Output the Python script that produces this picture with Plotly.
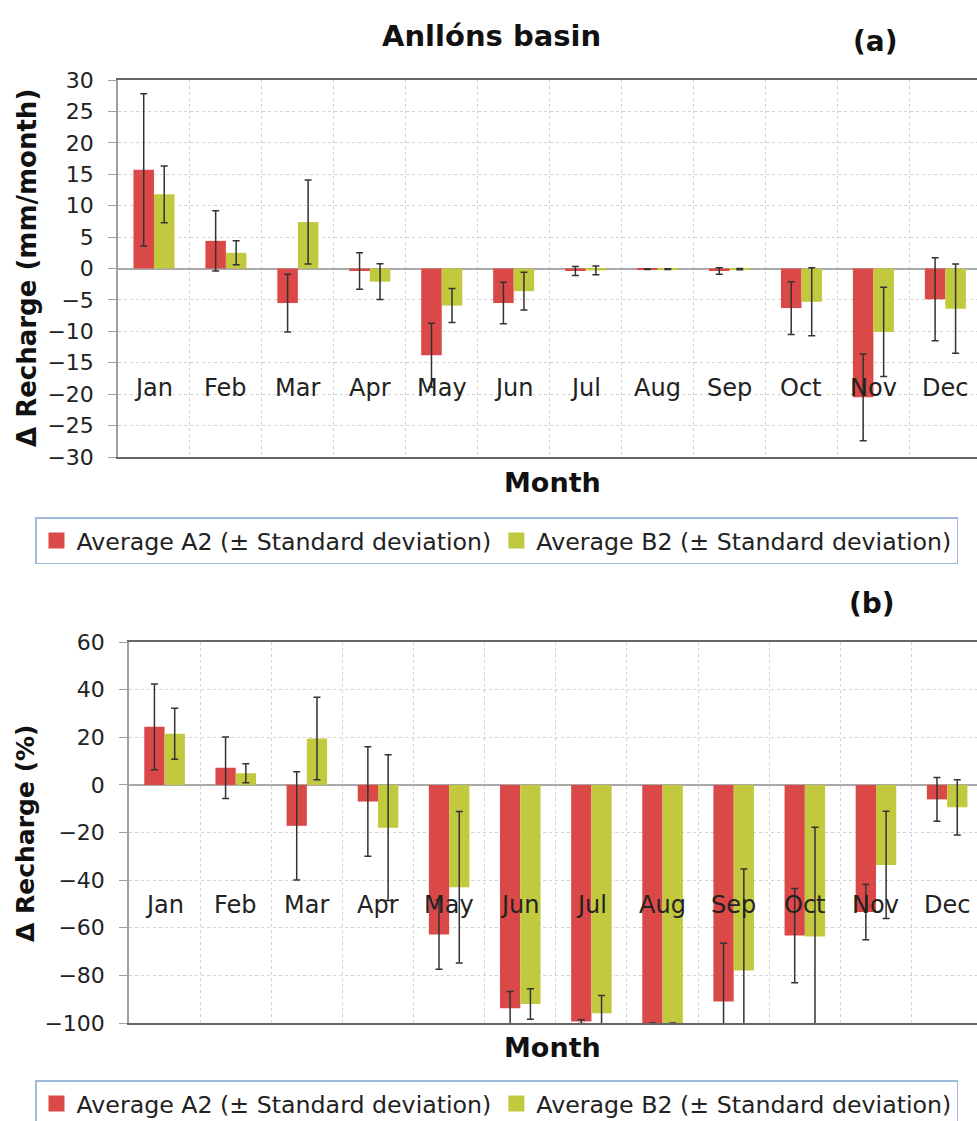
import plotly.graph_objects as go

months = ["Jan", "Feb", "Mar", "Apr", "May", "Jun", "Jul", "Aug", "Sep", "Oct", "Nov", "Dec"]

# Panel (a): change in recharge, mm/month
a2_mm = [15.7, 4.4, -5.5, -0.4, -13.8, -5.5, -0.4, -0.1, -0.4, -6.3, -20.5, -4.9]
a2_mm_sd = [12.1, 4.8, 4.6, 2.9, 5.1, 3.3, 0.7, 0.05, 0.5, 4.2, 6.9, 6.6]
b2_mm = [11.8, 2.5, 7.4, -2.1, -5.9, -3.6, -0.3, -0.1, -0.1, -5.3, -10.1, -6.4]
b2_mm_sd = [4.5, 1.9, 6.7, 2.85, 2.7, 3.0, 0.7, 0.05, 0.1, 5.4, 7.1, 7.1]

# Panel (b): change in recharge, %
a2_pct = [24.4, 7.2, -17.2, -7.0, -62.8, -93.8, -99.4, -100.0, -91.0, -63.3, -53.4, -6.1]
a2_pct_sd = [18.0, 12.9, 22.7, 23.0, 14.6, 7.0, 0.8, 0.0, 24.5, 19.8, 11.6, 9.2]
b2_pct = [21.5, 4.9, 19.5, -18.0, -43.0, -92.0, -95.9, -100.0, -78.0, -63.7, -33.6, -9.4]
b2_pct_sd = [10.7, 4.0, 17.3, 30.6, 31.8, 6.4, 7.4, 0.0, 42.7, 45.9, 22.5, 11.6]

series_names = ["Average A2 (± Standard deviation)", "Average B2 (± Standard deviation)"]
RED = "#DB4848"
GREEN = "#C2C93F"
FONT = "DejaVu Sans"
W, H = 977, 1121

def py(px):
    return (H - px) / H

def pxx(px):
    return px / W

fig = go.Figure()

err_style = dict(type="data", color="#333333", thickness=1.5, width=3.5, visible=True)

panels = [
    ("x", "y", "legend", [(a2_mm, a2_mm_sd, RED), (b2_mm, b2_mm_sd, GREEN)]),
    ("x2", "y2", "legend2", [(a2_pct, a2_pct_sd, RED), (b2_pct, b2_pct_sd, GREEN)]),
]

for xa, ya, leg, series in panels:
    for (vals, sds, col), name in zip(series, series_names):
        fig.add_trace(go.Bar(x=months, y=vals, name=name,
                             marker=dict(color=col, line=dict(width=0)),
                             error_y=dict(array=sds, **err_style),
                             xaxis=xa, yaxis=ya, showlegend=False))
        # legend entry with a larger square swatch
        fig.add_trace(go.Scatter(x=[None], y=[None], name=name, mode="markers",
                                 marker=dict(symbol="square", size=16, color=col),
                                 xaxis=xa, yaxis=ya, legend=leg, showlegend=True))

grid = dict(showgrid=True, gridcolor="#D2D2D2", gridwidth=1, griddash="3px,3px")

xcommon = dict(type="category", tickson="boundaries", showticklabels=False, ticks="",
               showline=True, linecolor="#666666", linewidth=2, mirror=True, **grid)
ycommon = dict(showline=True, linecolor="#A0A0A0", linewidth=1.5, ticks="outside",
               ticklen=8, tickcolor="#A0A0A0", ticklabelstandoff=10,
               tickfont=dict(family=FONT, size=22, color="#222222"),
               zeroline=True, zerolinecolor="#A8A8A8", zerolinewidth=2, **grid)

legend_style = dict(orientation="h", xanchor="left", yanchor="top",
                    bordercolor="#9DB9DC", borderwidth=1.5, bgcolor="white",
                    font=dict(family=FONT, size=23.7, color="#222222"), traceorder="normal",
                    itemwidth=30)

fig.update_layout(
    width=W, height=H,
    margin=dict(l=0, r=0, t=0, b=0, autoexpand=False),
    paper_bgcolor="white", plot_bgcolor="white",
    barmode="group", bargap=0.43, bargroupgap=0,
    font=dict(family=FONT, color="#222222"),
    xaxis=dict(domain=[pxx(118), 1.0], anchor="y", range=[-0.5, 11.44], **xcommon),
    yaxis=dict(domain=[py(457), py(80)], anchor="x", range=[-30, 30], dtick=5, **ycommon),
    xaxis2=dict(domain=[pxx(129), 1.0], anchor="y2", range=[-0.5, 11.42], **xcommon),
    yaxis2=dict(domain=[py(1023), py(642)], anchor="x2", range=[-100, 60], dtick=20, **ycommon),
    legend=dict(x=pxx(35), y=py(517), **legend_style),
    legend2=dict(x=pxx(35), y=py(1080), **legend_style),
    showlegend=True,
)

ann = []
# Category labels inside the plot areas
for m in months:
    ann.append(dict(x=m, y=0.183, xref="x", yref="y domain", text=m, showarrow=False,
                    xanchor="center", yanchor="middle",
                    font=dict(family=FONT, size=24, color="#222222")))
    ann.append(dict(x=m, y=0.31, xref="x2", yref="y2 domain", text=m, showarrow=False,
                    xanchor="center", yanchor="middle",
                    font=dict(family=FONT, size=24, color="#222222")))

def label(x, y, text, size, angle=0):
    return dict(x=pxx(x), y=py(y), xref="paper", yref="paper", text=text, textangle=angle,
                xanchor="center", yanchor="middle", showarrow=False,
                font=dict(family=FONT, size=size, color="#111111"))

ann += [
    label(492, 36, "<b>Anllóns basin</b>", 29),
    label(875, 42, "<b>(a)</b>", 28),
    label(872, 603, "<b>(b)</b>", 28),
    label(27, 268, "<b>Δ Recharge (mm/month)</b>", 26, -90),
    label(25, 833, "<b>Δ Recharge (%)</b>", 25, -90),
    label(552, 482, "<b>Month</b>", 27),
    label(552, 1047, "<b>Month</b>", 27),
]
fig.update_layout(annotations=ann)

fig.write_html("out.html")
